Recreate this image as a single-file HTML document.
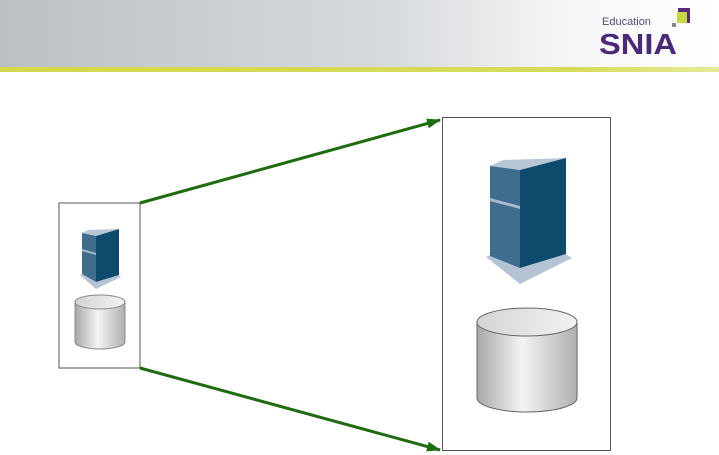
<!DOCTYPE html>
<html><head><meta charset="utf-8"><style>
html,body{margin:0;padding:0;width:719px;height:455px;overflow:hidden;background:#fff}
</style></head><body>
<svg width="719" height="455" viewBox="0 0 719 455" xmlns="http://www.w3.org/2000/svg" style="position:absolute;left:0;top:0">
<defs>
<linearGradient id="hdr" x1="0" x2="1" y1="0" y2="0">
<stop offset="0" stop-color="#bcc0c4"/><stop offset="0.55" stop-color="#d8dbde"/><stop offset="0.8" stop-color="#f6f7f8"/><stop offset="1" stop-color="#ffffff"/></linearGradient>
<linearGradient id="ln" x1="0" x2="1"><stop offset="0" stop-color="#d2d94a"/><stop offset="0.8" stop-color="#d6dc5a"/><stop offset="1" stop-color="#e6ea9a"/></linearGradient>
<linearGradient id="cyl" x1="0" x2="1"><stop offset="0" stop-color="#a8a8a8"/><stop offset="0.45" stop-color="#f4f4f4"/><stop offset="1" stop-color="#b0b0b0"/></linearGradient>
<linearGradient id="cyltop" x1="0" x2="1"><stop offset="0" stop-color="#d4d4d4"/><stop offset="1" stop-color="#f2f2f2"/></linearGradient>
<marker id="ar" markerWidth="14" markerHeight="10" refX="13" refY="5" orient="auto" markerUnits="userSpaceOnUse"><path d="M0,0 L14,5 L0,10 z" fill="#1e6b10"/></marker>
</defs>
<rect x="0" y="0" width="719" height="67" fill="url(#hdr)"/>
<rect x="0" y="67" width="719" height="5" fill="url(#ln)"/>
<text x="602" y="25" font-family="Liberation Sans, sans-serif" font-size="11" fill="#5a4a7a">Education</text>
<text x="599" y="54" font-family="Liberation Sans, sans-serif" font-size="29" font-weight="bold" fill="#4a2a78" textLength="78" lengthAdjust="spacingAndGlyphs">SNIA</text>
<rect x="677" y="12" width="10" height="11" fill="#c8d640"/>
<rect x="678" y="8" width="12" height="4" fill="#5a2a80"/>
<rect x="687" y="8" width="3" height="15" fill="#5a2a80"/>
<rect x="672" y="23" width="4" height="4" fill="#8a8a8a"/>

<rect x="59" y="203" width="81" height="165" fill="#fff" stroke="#555" stroke-width="1"/>
<rect x="442.5" y="117.5" width="168" height="333" fill="#fff" stroke="#555" stroke-width="1"/>

<line x1="140" y1="203" x2="440" y2="120" stroke="#1e6b10" stroke-width="3" marker-end="url(#ar)"/>
<line x1="140" y1="368" x2="440" y2="450" stroke="#1e6b10" stroke-width="3" marker-end="url(#ar)"/>

<polygon points="486,257 520,284 572,258 566,254 520,268 490,255" fill="#b5c4d4"/>
<polygon points="490,166 503,160 566,158 520,170" fill="#b8c7d6"/>
<polygon points="490,166 520,170 520,268 490,256" fill="#3f6d8e"/>
<polygon points="520,170 566,158 566,254 520,268" fill="#0e4a6c"/>
<polygon points="490,198 520,206 520,209 490,201" fill="#a9bccd"/>

<polygon points="80,275 96,289 121,277 119,275 96,282 82,274" fill="#b5c4d4"/>
<polygon points="82,233 88,230 119,229 96,236" fill="#b8c7d6"/>
<polygon points="82,233 96,236 96,282 82,274" fill="#3f6d8e"/>
<polygon points="96,236 119,229 119,275 96,282" fill="#0e4a6c"/>
<polygon points="82,249 96,253 96,255 82,251" fill="#a9bccd"/>

<path d="M75,302 L75,342 A25,7 0 0 0 125,342 L125,302 Z" fill="url(#cyl)" stroke="#888" stroke-width="1"/>
<ellipse cx="100" cy="302" rx="25" ry="7" fill="url(#cyltop)" stroke="#888" stroke-width="1"/>
<path d="M477,322 L477,398 A50,14 0 0 0 577,398 L577,322 Z" fill="url(#cyl)" stroke="#666" stroke-width="1"/>
<ellipse cx="527" cy="322" rx="50" ry="14" fill="url(#cyltop)" stroke="#666" stroke-width="1"/>
</svg>
</body></html>
